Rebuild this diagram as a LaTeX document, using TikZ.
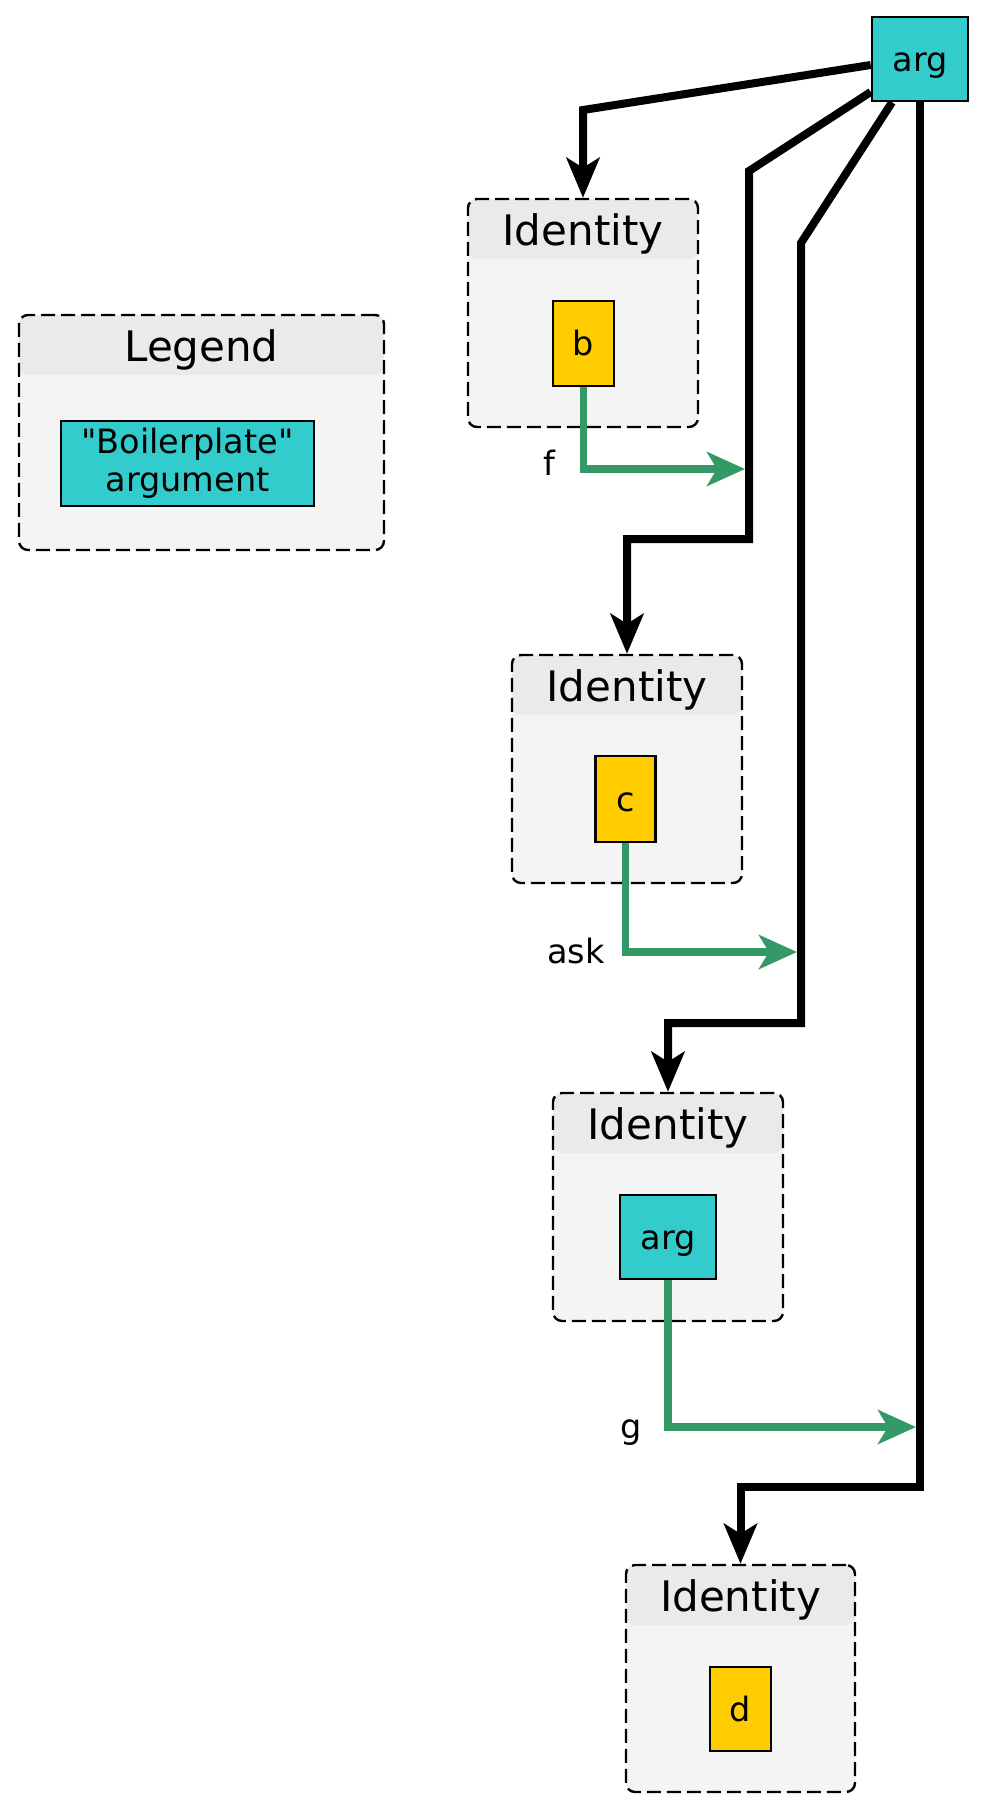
\documentclass[tikz,border=0pt]{standalone}
\usepackage{fontspec}
\setmainfont{DejaVu Sans}[Ligatures=TeXOff]
\usetikzlibrary{arrows.meta}
\definecolor{argcyan}{HTML}{33CCCC}
\definecolor{opyellow}{HTML}{FFCC00}
\definecolor{edgegreen}{HTML}{339966}
\definecolor{headgray}{HTML}{EAEAEA}
\definecolor{bodygray}{HTML}{F4F4F4}
\begin{document}
\begin{tikzpicture}[x=0.5pt,y=-0.5pt,
  cluster/.style={draw=black, line width=1.2pt, dash pattern=on 7pt off 3pt,
    rounded corners=4.5pt, fill=bodygray, inner sep=0pt,
    path picture={\fill[headgray] (path picture bounding box.north west)
      rectangle ([yshift=-30pt]path picture bounding box.north east);}},
  title/.style={anchor=base, inner sep=0pt, font=\fontsize{21}{25}\selectfont},
  box/.style={draw=black, line width=1.3pt, inner sep=0pt,
    font=\fontsize{16.75}{20}\selectfont, text height=14pt, text depth=2pt},
  argbox/.style={box, fill=argcyan},
  opbox/.style={box, fill=opyellow},
  bpbox/.style={draw=black, line width=1.3pt, inner sep=0pt, fill=argcyan,
    align=center, font=\fontsize{16.75}{19}\selectfont},
  elabel/.style={anchor=base, inner sep=0pt, font=\fontsize{16.75}{20}\selectfont},
  flow/.style={line width=4pt, -{Stealth[length=20pt,width=16.5pt,inset=5pt]}},
  ret/.style={line width=3.8pt, draw=edgegreen,
    -{Stealth[length=19pt,width=17pt,inset=5pt]}},
]
\useasboundingbox (0,0) rectangle (985,1817);

% clusters
\node[cluster, minimum width=182.5pt, minimum height=117.5pt] (legend) at (201.5,432.5) {};
\node[title] (legendT) at (201.5,361) {Legend};
\node[bpbox, minimum width=126.5pt, minimum height=42.5pt] (bp) at (187.5,463.5) {"Boilerplate"\\argument};

\node[cluster, minimum width=115pt, minimum height=114pt] (id1) at (583,313) {};
\node[title] (id1T) at (583,245) {Identity};
\node[opbox, minimum width=30.5pt, minimum height=42.5pt] (b) at (583.5,343.5) {b};

\node[cluster, minimum width=115pt, minimum height=114pt] (id2) at (627,769) {};
\node[title] (id2T) at (627,701) {Identity};
\node[opbox, minimum width=30pt, minimum height=43pt] (c) at (625.5,799) {c};

\node[cluster, minimum width=115pt, minimum height=114pt] (id3) at (668,1207) {};
\node[title] (id3T) at (668,1139) {Identity};
\node[argbox, minimum width=48pt, minimum height=42pt] (arg2) at (668,1237) {arg};

\node[cluster, minimum width=114.5pt, minimum height=113.5pt] (id4) at (740.5,1678.5) {};
\node[title] (id4T) at (740.5,1611) {Identity};
\node[opbox, minimum width=30.5pt, minimum height=42pt] (d) at (740.5,1709) {d};

\node[argbox, minimum width=48pt, minimum height=42pt] (argTop) at (920,59) {arg};

% black flows
\draw[flow] ([yshift=-3pt]argTop.west) -- (583,110) -- (id1.north);
\draw[flow] ([yshift=-16.5pt]argTop.west) -- (749,171) -- (749,539) -- (627,539) -- (id2.north);
\draw[flow] ([xshift=-14pt]argTop.south) -- (801,243) -- (801,1023) -- (668,1023) -- (id3.north);
\draw[flow] (argTop.south) -- (920,1487) -- (740.5,1487) -- (id4.north);

% green returns
\coordinate (fTip) at (745,469);
\draw[ret] (b.south) |- (fTip);
\node[elabel] (fL) at (549,475) {f};
\coordinate (askTip) at (797,952);
\draw[ret] (c.south) |- (askTip);
\node[elabel] (askL) at (576,963) {ask};
\coordinate (gTip) at (916,1427);
\draw[ret] (arg2.south) |- (gTip);
\node[elabel] (gL) at (631,1438) {g};
\end{tikzpicture}
\end{document}
